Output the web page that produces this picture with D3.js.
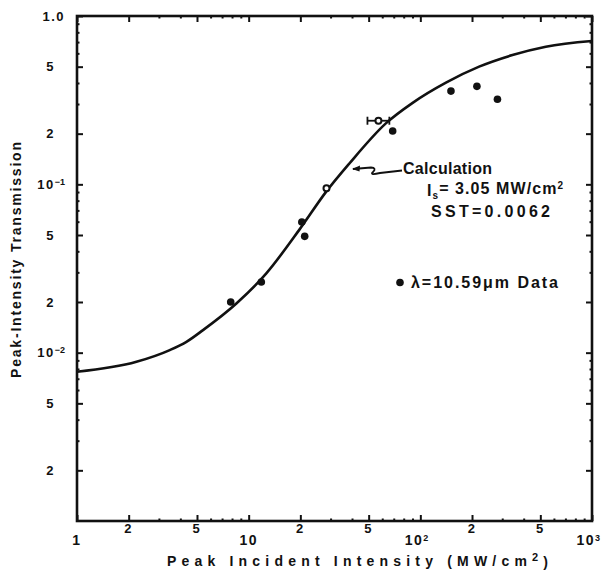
<!DOCTYPE html>
<html>
<head>
<meta charset="utf-8">
<script src="https://cdn.jsdelivr.net/npm/d3@7"></script>
<style>
  body { margin: 0; background: #fff; }
  svg text { font-family: "Liberation Sans", Arial, sans-serif; font-weight: bold; fill: #111; }
</style>
</head>
<body>
<svg id="chart" width="614" height="574"></svg>
<script>
// calculated transmission curve
const calcX = [1, 2.22, 3.47, 4.34, 5.42, 8.48, 12.67, 19.8, 28.3, 38.6, 63.2, 90.2, 141, 220, 344, 538, 1000];
const calcY = [0.0077, 0.00883, 0.01036, 0.0116, 0.01362, 0.0196, 0.0296, 0.054, 0.0905, 0.133, 0.231, 0.305, 0.402, 0.50, 0.586, 0.657, 0.71];

// measured data, 10.59 um
const dataX = [7.86, 11.85, 20.4, 21.2, 69.0, 150.8, 213.6, 281.3];
const dataY = [0.0200, 0.0263, 0.0597, 0.0491, 0.2074, 0.358, 0.382, 0.320];

// open symbols (second one has an x error bar)
const openX = [28.4, 57.0];
const openY = [0.0947, 0.2387];
const errLow = [null, 49.2];
const errHigh = [null, 66.0];

// ticks
const xTicks = [1, 2, 5, 10, 20, 50, 100, 200, 500, 1000];
const xTickText = ["1", "2", "5", "10", "2", "5", "10", "2", "5", "10"];
const xTickSup = ["", "", "", "", "", "", "2", "", "", "3"];
const yTicks = [1, 0.5, 0.2, 0.1, 0.05, 0.02, 0.01, 0.005, 0.002];
const yTickText = ["1.0", "5", "2", "10", "5", "2", "10", "5", "2"];
const yTickSup = ["", "", "", "\u22121", "", "", "\u22122", "", ""];


class TransPlot {

    constructor(svg_element_id) {
        this.svg = d3.select("#" + svg_element_id);

        const x = d3.scaleLog().domain([1, 1000]).range([77, 592]);
        const y = d3.scaleLog().domain([0.001, 1]).range([521, 16]);

        // minor ticks 3,4,6..9 per decade
        let xMinor = [], yMinor = [];
        [1, 10, 100].forEach(d => [3, 4, 6, 7, 8, 9].forEach(m => xMinor.push(d * m)));
        [0.001, 0.01, 0.1].forEach(d => [3, 4, 6, 7, 8, 9].forEach(m => yMinor.push(d * m)));

        // ticks on all four sides, pointing in
        const sides = [
            [d3.axisBottom(x), "translate(0,521)", xTicks, xMinor],
            [d3.axisTop(x), "translate(0,16)", xTicks, xMinor],
            [d3.axisLeft(y), "translate(77,0)", yTicks, yMinor],
            [d3.axisRight(y), "translate(592,0)", yTicks, yMinor]
        ];
        sides.forEach(s => {
            const g = this.svg.append("g").attr("transform", s[1]);
            g.call(s[0].tickValues(s[2]).tickFormat("").tickSizeInner(-6).tickSizeOuter(0));
            g.append("g").call(s[0].tickValues(s[3]).tickFormat("").tickSizeInner(-2.5).tickSizeOuter(0));
            g.selectAll("path.domain").remove();
            g.selectAll("line").attr("stroke", "#111").attr("stroke-width", 2);
        });

        // frame
        this.svg.append("rect")
            .attr("x", x(1)).attr("y", y(1))
            .attr("width", x(1000) - x(1)).attr("height", y(0.001) - y(1))
            .attr("fill", "none").attr("stroke", "#111").attr("stroke-width", 2.6);

        // x tick labels
        xTicks.forEach((v, i) => {
            const big = xTickText[i].length > 1 || v == 1;
            const t = this.svg.append("text")
                .attr("x", x(v) + (xTickSup[i] ? -3 : 0))
                .attr("y", big ? 545 : 533)
                .attr("text-anchor", "middle")
                .style("font-size", big ? "14px" : "13px")
                .style("letter-spacing", "1.5px")
                .text(xTickText[i]);
            if (xTickSup[i]) {
                t.append("tspan").attr("dy", "-0.5em").style("font-size", "9px").text(xTickSup[i]);
            }
        });

        // y tick labels
        yTicks.forEach((v, i) => {
            const big = yTickText[i].length > 1;
            const t = this.svg.append("text")
                .attr("x", big ? 65 : 55)
                .attr("y", y(v))
                .attr("dy", "0.36em")
                .attr("text-anchor", "end")
                .style("font-size", "13px")
                .style("letter-spacing", "1.5px")
                .text(yTickText[i]);
            if (yTickSup[i]) {
                t.append("tspan").attr("dy", "-0.5em").style("font-size", "9px").style("letter-spacing", "0px").text(yTickSup[i]);
            }
        });

        // axis titles
        const xt = this.svg.append("text")
            .attr("x", 167).attr("y", 566)
            .attr("textLength", 381).attr("lengthAdjust", "spacing")
            .style("font-size", "14px")
            .text("Peak Incident Intensity (MW/cm");
        xt.append("tspan").attr("dy", "-0.45em").style("font-size", "11px").text("2");
        xt.append("tspan").attr("dy", "0.45em").text(")");

        this.svg.append("text")
            .attr("transform", "translate(21,260) rotate(-90)")
            .attr("text-anchor", "middle")
            .attr("textLength", 236).attr("lengthAdjust", "spacing")
            .style("font-size", "14px")
            .text("Peak-Intensity Transmission");

        // calculation curve
        const calc = calcX.map((v, i) => [v, calcY[i]]);
        const line = d3.line()
            .x(d => x(d[0])).y(d => y(d[1]))
            .curve(d3.curveMonotoneX);
        this.svg.append("path")
            .datum(calc)
            .attr("d", line)
            .attr("fill", "none").attr("stroke", "#111").attr("stroke-width", 2.6);

        // error bar on the open point
        openX.forEach((v, i) => {
            if (errLow[i] == null) return;
            const yy = y(openY[i]);
            this.svg.append("line")
                .attr("x1", x(errLow[i])).attr("x2", x(errHigh[i]))
                .attr("y1", yy).attr("y2", yy)
                .attr("stroke", "#111").attr("stroke-width", 1.8);
            [errLow[i], errHigh[i]].forEach(e => {
                this.svg.append("line")
                    .attr("x1", x(e)).attr("x2", x(e))
                    .attr("y1", yy - 4).attr("y2", yy + 4)
                    .attr("stroke", "#111").attr("stroke-width", 1.8);
            });
        });

        // open circles
        this.svg.selectAll("circle.open")
            .data(openX.map((v, i) => [v, openY[i]]))
            .enter().append("circle")
            .attr("class", "open")
            .attr("cx", d => x(d[0])).attr("cy", d => y(d[1]))
            .attr("r", 3)
            .attr("fill", "#fff").attr("stroke", "#111").attr("stroke-width", 2);

        // filled data points
        this.svg.selectAll("circle.dat")
            .data(dataX.map((v, i) => [v, dataY[i]]))
            .enter().append("circle")
            .attr("class", "dat")
            .attr("cx", d => x(d[0])).attr("cy", d => y(d[1]))
            .attr("r", 3.8)
            .attr("fill", "#111");

        // pointer from the label to the curve
        this.svg.append("path")
            .attr("d", "M353,169 L371,167.5 Q377,168 373,172 Q369,175.5 380,173 L402,170.5")
            .attr("fill", "none").attr("stroke", "#111").attr("stroke-width", 1.8);
        this.svg.append("path")
            .attr("d", "M352,169 L360,165.5 L359.5,171.5 Z")
            .attr("fill", "#111");

        // annotation text
        this.svg.append("text")
            .attr("x", 403).attr("y", 174)
            .attr("textLength", 89).attr("lengthAdjust", "spacing")
            .style("font-size", "16px")
            .text("Calculation");

        const ann = this.svg.append("text")
            .attr("x", 427).attr("y", 196)
            .attr("textLength", 136).attr("lengthAdjust", "spacing")
            .style("font-size", "16px")
            .text("I");
        ann.append("tspan").attr("dy", "0.3em").style("font-size", "10px").text("s");
        ann.append("tspan").attr("dy", "-0.3em").text("= 3.05 MW/cm");
        ann.append("tspan").attr("dy", "-0.5em").style("font-size", "10px").text("2");

        this.svg.append("text")
            .attr("x", 431).attr("y", 217)
            .attr("textLength", 119).attr("lengthAdjust", "spacing")
            .style("font-size", "16px")
            .text("SST=0.0062");

        // legend
        this.svg.append("circle")
            .attr("cx", 400).attr("cy", 282.5).attr("r", 3.8).attr("fill", "#111");
        this.svg.append("text")
            .attr("x", 411).attr("y", 288)
            .attr("textLength", 147).attr("lengthAdjust", "spacing")
            .style("font-size", "16px")
            .text("\u03bb=10.59\u03bcm Data");
    }
}


// Boiler code to wait for page to completely load DOM
function whenDocumentLoaded(action) {
    if (document.readyState === "loading") {
        document.addEventListener("DOMContentLoaded", action);
    } else {
        action();
    }
}

whenDocumentLoaded(() => {
    plot_object = new TransPlot('chart');
});
</script>
</body>
</html>
